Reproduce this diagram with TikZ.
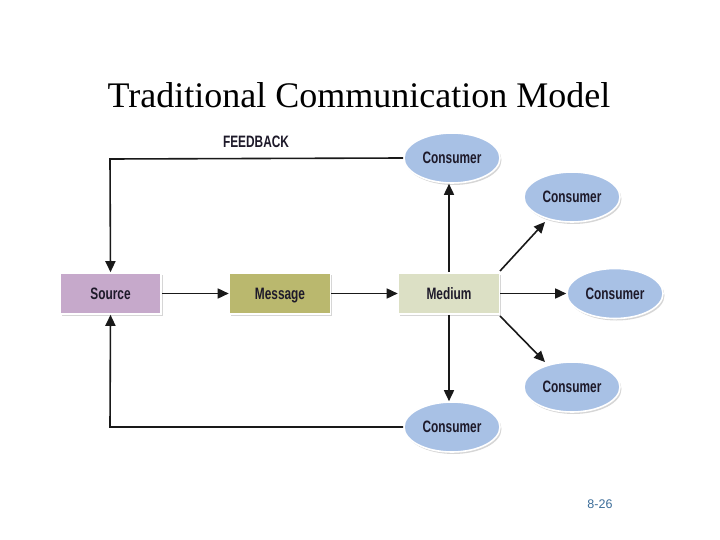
\documentclass[tikz,border=0pt]{standalone}
\usepackage{fontspec}
\setmainfont{Liberation Serif}
\newfontfamily\cond[FakeStretch=0.72]{Liberation Sans}
\newfontfamily\plainsans{Liberation Sans}
\usetikzlibrary{arrows.meta,shadows,shapes.geometric}
\definecolor{srcfill}{HTML}{C6A9CB}
\definecolor{msgfill}{HTML}{BAB86E}
\definecolor{medfill}{HTML}{DCE0C5}
\definecolor{conFill}{HTML}{A8C1E5}
\definecolor{txt}{HTML}{1E1A2A}
\definecolor{pagenum}{HTML}{3D6E9A}
\tikzset{
  x=1pt,y=-1pt,
  shad/.style={drop shadow={shadow xshift=1.5pt,shadow yshift=-2pt,fill=black,opacity=0.16}},
  lbl/.style={font=\cond\bfseries\fontsize{16.5}{16.5}\selectfont,text=txt,text height=11.8pt,text depth=0pt},
  boxnode/.style={rectangle,draw=white,line width=1.6pt,minimum width=101pt,minimum height=41pt,
    inner sep=0pt,lbl,shad},
  consnode/.style={ellipse,draw=white,line width=1.6pt,fill=conFill,minimum width=96pt,minimum height=50pt,
    inner sep=0pt,lbl,shad},
  conn/.style={line width=1.6pt,draw=black!90,-{Triangle[length=11pt,width=10pt]}},
}
\begin{document}
\begin{tikzpicture}
\useasboundingbox (0,0) rectangle (720,540);
\fill[white] (0,0) rectangle (720,540);
\node[font=\fontsize{36}{36}\selectfont] (title) at (359,95) {Traditional Communication Model};
\node[boxnode,fill=srcfill] (src) at (110.5,293.5) {Source};
\node[boxnode,fill=msgfill] (msg) at (280,293.5) {Message};
\node[boxnode,fill=medfill] (med) at (449,293.5) {Medium};
\node[consnode] (c1) at (452,158) {Consumer};
\node[consnode] (c2) at (572,197) {Consumer};
\node[consnode] (c3) at (615,293.5) {Consumer};
\node[consnode] (c4) at (572,387) {Consumer};
\node[consnode] (c5) at (452,427) {Consumer};
\node[lbl] (fb) at (256,142) {FEEDBACK};
\node[font=\plainsans\fontsize{12.5}{12.5}\selectfont,text=pagenum] (pg) at (600,504) {8-26};
\coordinate (fbt) at (110,159);
\coordinate (fbb) at (110,427);
\draw[conn] (c1.west) -- (fbt) -- (src.north);
\draw[conn] (c5.west) -- (fbb) -- (src.south);
\draw[conn] (src) -- (msg);
\draw[conn] (msg) -- (med);
\draw[conn] (med.north) -- (med.north |- c1.south);
\draw[conn] (med.south) -- (med.south |- c5.north);
\draw[conn] (med.east) -- (c3.west);
\coordinate (d1s) at (500,271);
\coordinate (d1e) at (545,222);
\coordinate (d2s) at (500,316);
\coordinate (d2e) at (545,362);
\draw[conn] (d1s) -- (d1e);
\draw[conn] (d2s) -- (d2e);
\end{tikzpicture}
\end{document}
